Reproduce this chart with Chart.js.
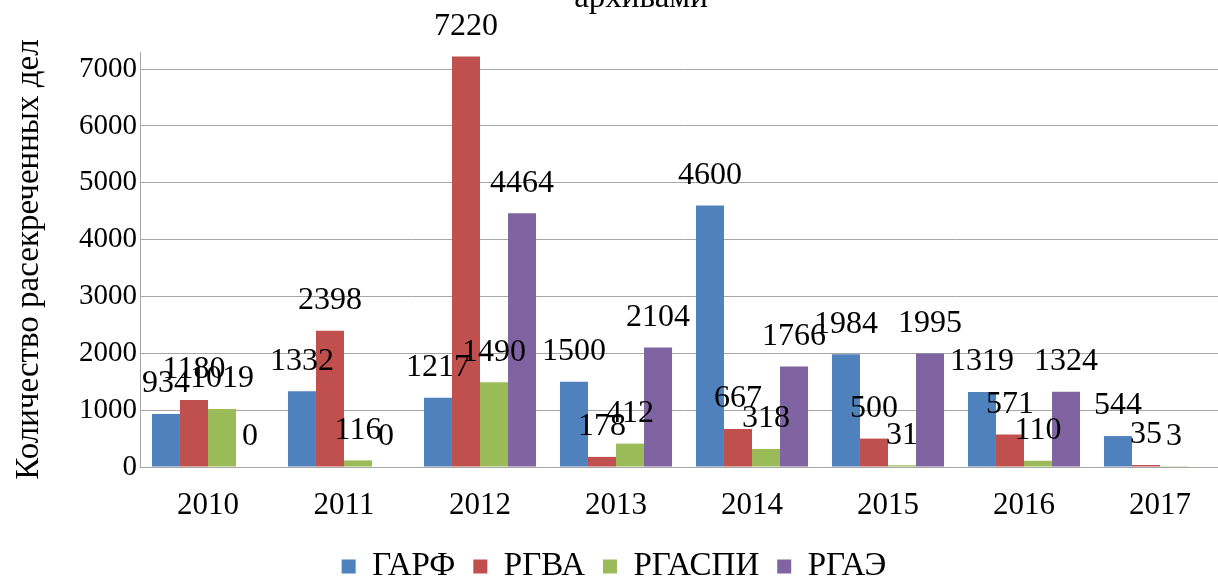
<!DOCTYPE html>
<html>
<head>
<meta charset="utf-8">
<script src="https://cdn.jsdelivr.net/npm/chart.js@4.4.1/dist/chart.umd.min.js"></script>
<style>
  html, body { margin: 0; padding: 0; background: #fff; overflow: hidden; }
  #wrap { position: relative; width: 1232px; height: 593px; }
</style>
</head>
<body>
<div id="wrap"><canvas id="chartArquivos" width="1232" height="593"></canvas></div>
<script>
// данные
var years = ["2010", "2011", "2012", "2013", "2014", "2015", "2016", "2017"];
var garf = [934, 1332, 1217, 1500, 4600, 1984, 1319, 544];
var rgva = [1180, 2398, 7220, 178, 667, 500, 571, 35];
var rgaspi = [1019, 116, 1490, 412, 318, 31, 110, 3];
var rgae = [0, 0, 4464, 2104, 1766, 1995, 1324, null];
var yTicks = [0, 1000, 2000, 3000, 4000, 5000, 6000, 7000];

var titulo = "архивами";
var tituloEixo = "Количество расекреченных дел";
var fonte = "'Liberation Serif', 'Times New Roman', serif";

// подписи значений над столбцами
var rotulosPlugin = {
  id: "rotulos",
  afterDatasetsDraw: function (chart) {
    var ctx = chart.ctx;
    ctx.save();
    ctx.font = "32px " + fonte;
    ctx.fillStyle = "#000";
    ctx.textAlign = "center";
    ctx.textBaseline = "middle";
    chart.data.datasets.forEach(function (ds, i) {
      var meta = chart.getDatasetMeta(i);
      meta.data.forEach(function (bar, j) {
        var v = ds.data[j];
        if (v === null || v === undefined) return;
        ctx.fillText(String(v), bar.x, bar.y - 30);
      });
    });
    ctx.restore();
  }
};

// заголовок (обрезан сверху, как на исходной картинке)
var tituloPlugin = {
  id: "tituloCortado",
  afterDraw: function (chart) {
    var ctx = chart.ctx;
    ctx.save();
    ctx.font = "33px " + fonte;
    ctx.fillStyle = "#000";
    ctx.textAlign = "center";
    ctx.textBaseline = "alphabetic";
    ctx.fillText(titulo, 641, 7);
    ctx.restore();
  }
};

document.addEventListener("DOMContentLoaded", function () {
  if (typeof Chart === "undefined") {
    console.error("Chart.js не загружен");
    return;
  }

  var ctx = document.getElementById("chartArquivos").getContext("2d");

  new Chart(ctx, {
    type: "bar",
    data: {
      labels: years,
      datasets: [
        { label: "ГАРФ", data: garf, backgroundColor: "#4F81BD" },
        { label: "РГВА", data: rgva, backgroundColor: "#C0504D" },
        { label: "РГАСПИ", data: rgaspi, backgroundColor: "#9BBB59" },
        { label: "РГАЭ", data: rgae, backgroundColor: "#8064A2" }
      ]
    },
    options: {
      responsive: false,
      animation: false,
      layout: { padding: { top: 52, right: 4, bottom: 0, left: 0 } },
      datasets: {
        bar: { categoryPercentage: 0.824, barPercentage: 1.0 }
      },
      scales: {
        x: {
          afterFit: function (scale) { scale.height = 65; },
          grid: { display: false, drawTicks: false },
          border: { color: "#a6a6a6" },
          ticks: {
            color: "#000",
            font: { family: fonte, size: 31 },
            padding: 20,
            maxRotation: 0
          }
        },
        y: {
          min: 0,
          max: 7300,
          afterFit: function (scale) { scale.width = 140; },
          afterBuildTicks: function (scale) {
            var t = yTicks.map(function (v) { return { value: v }; });
            t.push({ value: 7300 });
            scale.ticks = t;
          },
          grid: {
            drawTicks: false,
            color: function (c) {
              return c.tick && c.tick.value % 1000 === 0 ? "#a6a6a6" : "rgba(0,0,0,0)";
            }
          },
          border: { color: "#a6a6a6" },
          ticks: {
            color: "#000",
            font: { family: fonte, size: 29 },
            padding: 3,
            callback: function (v) { return v % 1000 === 0 ? String(v) : ""; }
          },
          title: {
            display: true,
            text: tituloEixo,
            color: "#000",
            font: { family: fonte, size: 33 },
            padding: { top: 10, bottom: 0 }
          }
        }
      },
      plugins: {
        legend: {
          position: "bottom",
          labels: {
            color: "#000",
            boxWidth: 14,
            boxHeight: 14,
            padding: 18,
            font: { family: fonte, size: 33 }
          }
        },
        title: { display: false },
        tooltip: { enabled: false }
      }
    },
    plugins: [rotulosPlugin, tituloPlugin]
  });
});
</script>
</body>
</html>
